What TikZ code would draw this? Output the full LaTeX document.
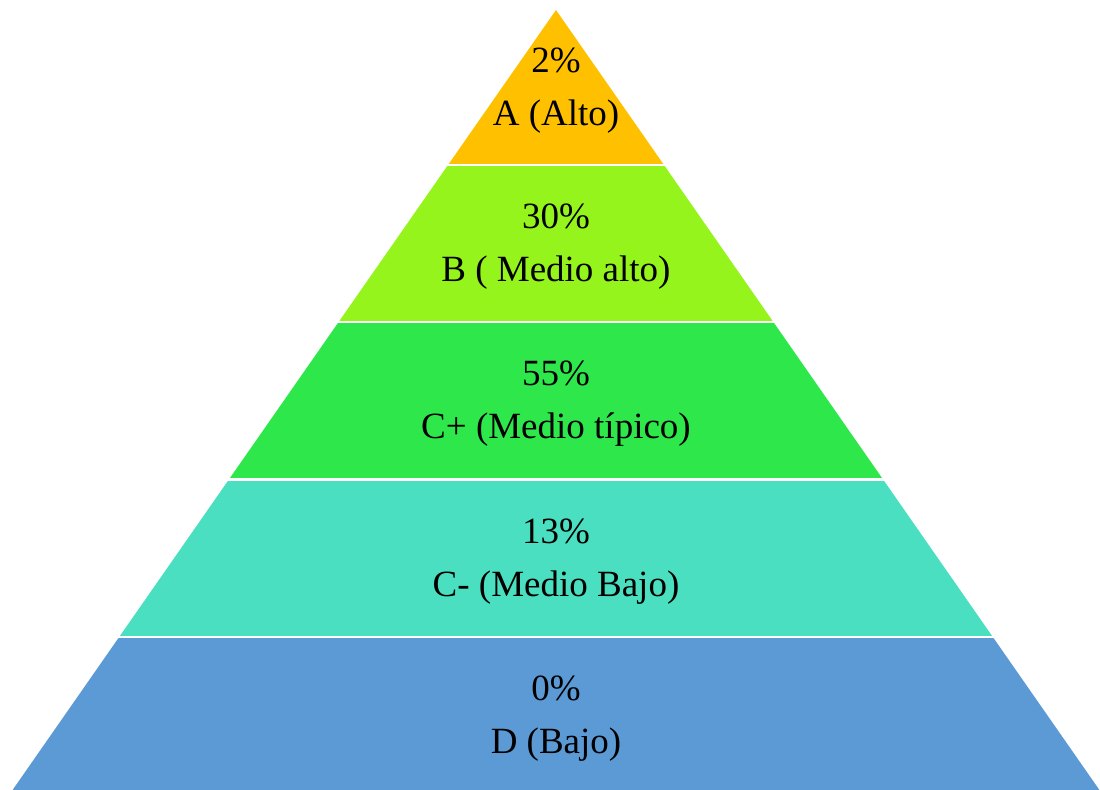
\documentclass[tikz,border=0pt]{standalone}
\usepackage{fontspec}
\setmainfont{Liberation Serif}
\definecolor{alto}{HTML}{FFC000}
\definecolor{medioalto}{HTML}{94F41B}
\definecolor{mediotipico}{HTML}{2EE84B}
\definecolor{mediobajo}{HTML}{49DFC0}
\definecolor{bajo}{HTML}{5B9AD5}
\newcommand{\defpyramid} {
  \def \apexx {556}
  \def \apexy {10}
  \def \slope {0.6967}  % half width per unit of height
}
\tikzset{
  layertext/.style={align=center, font=\fontsize{18.5}{26.5}\selectfont, text=black},
  gapline/.style={white, line width=1.3pt}
}

\begin{document}
\begin{tikzpicture}[x=0.5pt, y=-0.5pt]
    \defpyramid
    \useasboundingbox (0,0) rectangle (1100,789);
    \clip (0,0) rectangle (1100,789);
    \foreach \ytop/\ybot/\col/\pct/\lbl/\nm in {
        10/165/alto/{2\%}/{A (Alto)}/a,
        165/322/medioalto/{30\%}/{B ( Medio alto)}/b,
        322/479.5/mediotipico/{55\%}/{C+ (Medio típico)}/cplus,
        479.5/637/mediobajo/{13\%}/{C- (Medio Bajo)}/cminus,
        637/794/bajo/{0\%}/{D (Bajo)}/d} {
      \pgfmathsetmacro{\wtop}{\slope*(\ytop-\apexy)}
      \pgfmathsetmacro{\wbot}{\slope*(\ybot-\apexy)}
      \pgfmathsetmacro{\ymid}{(\ytop+\ybot)/2+3}
      \fill[\col] (\apexx-\wtop,\ytop) -- (\apexx+\wtop,\ytop)
        -- (\apexx+\wbot,\ybot) -- (\apexx-\wbot,\ybot) -- cycle;
      \node[layertext] (\nm) at (\apexx,\ymid) {\pct\\\lbl};
    }
    % white gaps between the layers
    \foreach \y in {165,322,479.5,637} {
      \draw[gapline] (0,\y) -- (1100,\y);
    }
\end{tikzpicture}
\end{document}
